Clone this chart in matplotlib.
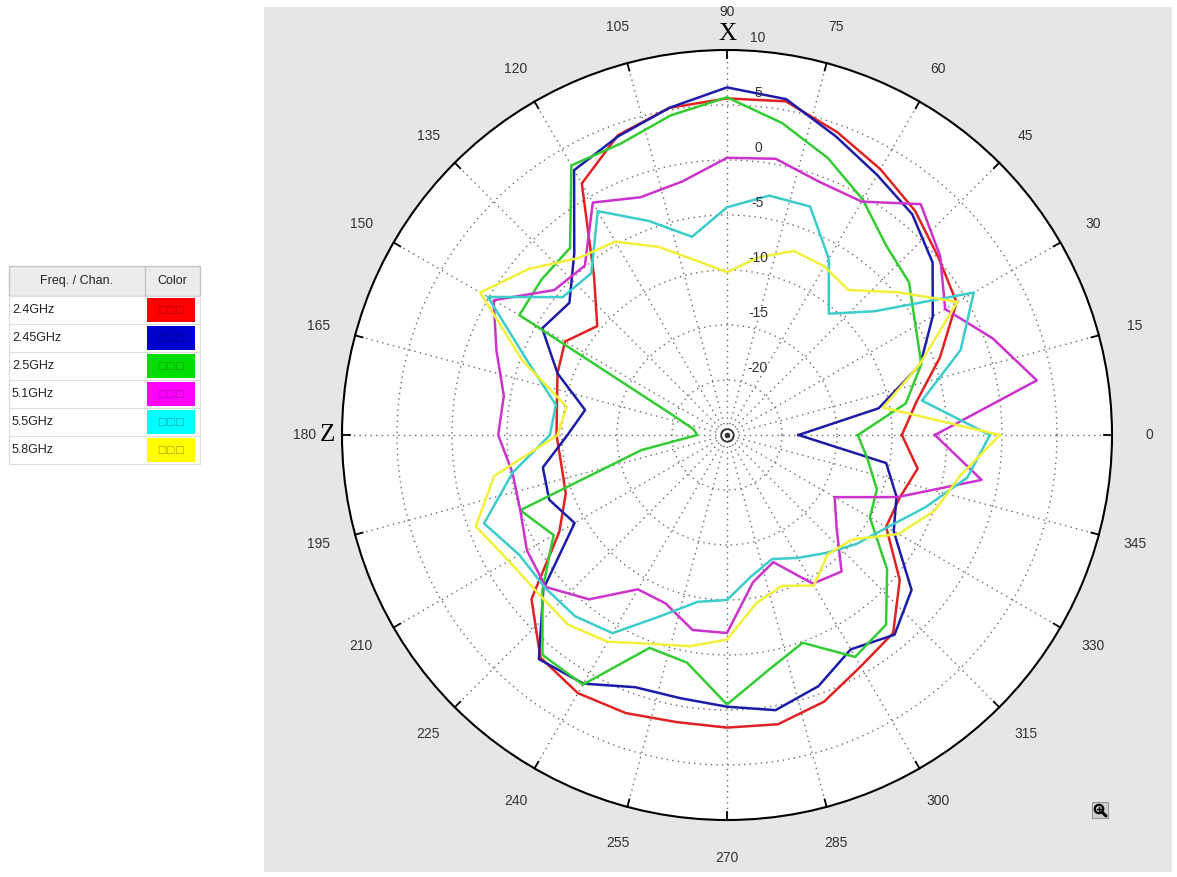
import numpy as np
import matplotlib
matplotlib.use('Agg')
import matplotlib.pyplot as plt
from matplotlib.patches import Rectangle, Circle

# measurement angles (deg) and gain per band (dB)
angles = np.arange(0, 360, 10)

gain_2g40 = [-9.1, -7.5, -4.4, -0.9, 0.1, 1.6, 2.9, 4.3, 5.8, 5.6, 5.2, 4.0,
             1.4, -6.2, -9.6, -8.0, -8.6, -9.3, -9.5, -9.7, -9.4, -7.4, -1.8, 1.4,
             2.1, 1.9, 1.5, 1.6, 1.7, 0.8, -0.7, -1.5, -4.5, -8.3, -8.3, -7.4]
gain_2g45 = [-18.5, -11.0, -6.3, -3.4, -0.6, 1.2, 2.3, 3.9, 6.0, 6.6, 5.2, 3.9,
             2.8, -3.4, -6.3, -5.6, -8.6, -11.9, -10.5, -8.0, -7.8, -9.0, -3.2, 1.6,
             1.1, -0.6, -0.7, -0.3, 0.4, -0.7, -2.5, -1.3, -3.1, -7.5, -8.6, -10.3]
gain_2g50 = [-13.1, -8.5, -6.2, -5.2, -3.4, -2.5, -0.3, 1.8, 3.8, 5.7, 4.5, 3.2,
             3.3, -2.8, -3.0, -3.2, -19.8, -21.9, -22.3, -17.1, -5.0, -6.8, -3.1, 1.1,
             1.2, -4.4, -4.0, -0.5, -3.3, -4.9, -1.7, -2.5, -6.0, -10.0, -10.5, -12.0]
gain_5g10 = [-6.1, 3.6, 0.7, -2.1, 0.3, 2.4, -0.5, -0.5, 0.5, 0.2, -1.6, -2.0,
             -0.6, -4.9, -4.5, -0.5, -2.7, -4.4, -4.2, -5.2, -5.0, -4.0, -3.5, -5.5,
             -8.8, -8.7, -7.0, -7.0, -11.4, -12.7, -9.4, -8.8, -12.0, -13.7, -8.5, -1.5]
gain_5g50 = [-1.1, -7.0, -2.4, 0.9, -7.5, -10.6, -6.5, -2.9, -2.9, -4.3, -6.7, -4.3,
             -1.5, -5.8, -5.5, 0.1, -5.8, -9.2, -8.9, -5.2, -1.5, -3.2, -3.4, -3.5,
             -4.2, -7.5, -9.6, -10.0, -12.0, -13.0, -12.1, -11.0, -9.6, -8.2, -5.8, -2.8]
gain_5g80 = [-0.2, -10.6, -6.4, -0.8, -4.8, -7.8, -7.3, -7.2, -8.6, -10.2, -8.9, -6.8,
             -4.7, -4.0, -1.5, 0.9, -5.2, -10.2, -9.6, -3.5, -0.7, -2.1, -2.6, -2.5,
             -3.3, -4.8, -5.5, -6.4, -9.5, -10.4, -9.2, -10.8, -10.2, -7.0, -4.9, -3.5]

freqs = ['2.4GHz', '2.45GHz', '2.5GHz', '5.1GHz', '5.5GHz', '5.8GHz']
series = [gain_2g40, gain_2g45, gain_2g50, gain_5g10, gain_5g50, gain_5g80]
line_colors = ['#e02222', '#1c1ca8', '#33cc33', '#cc33cc', '#3ccccc', '#f2f03a']
cell_colors = ['#ff0000', '#0000cc', '#00dd00', '#ff00ff', '#00ffff', '#ffff00']
mark_colors = ['#b00000', '#00008a', '#009a00', '#b000b0', '#00a0a0', '#a0a000']

r_ticks = [-20, -15, -10, -5, 0, 5, 10]
theta_ticks = np.arange(0, 360, 15)

W, H = 1177, 877
fig = plt.figure(figsize=(W / 100, H / 100), dpi=100)

# background layer in pixel units: gray panel, legend table, zoom icon
base = fig.add_axes([0, 0, 1, 1])
base.set_xlim(0, W)
base.set_ylim(H, 0)
base.axis('off')
base.add_patch(Rectangle((264, 7), 908, 865, fc='#e6e6e6', ec='none'))

x0, x1, x2 = 9, 145, 200
top, head_h, row_h = 266, 30, 28
base.add_patch(Rectangle((x0, top), x2 - x0, head_h, fc='#ececec', ec='#c4c4c4', lw=1))
base.plot([x1, x1], [top, top + head_h], color='#c4c4c4', lw=1)
base.text((x0 + x1) / 2, top + head_h / 2, 'Freq. / Chan.', ha='center', va='center',
          fontsize=9, family='Liberation Sans', color='#222')
base.text((x1 + x2) / 2, top + head_h / 2, 'Color', ha='center', va='center',
          fontsize=9, family='Liberation Sans', color='#222')
for i, (f, c, m) in enumerate(zip(freqs, cell_colors, mark_colors)):
    y = top + head_h + i * row_h
    base.add_patch(Rectangle((x0, y), x2 - x0, row_h, fc='white', ec='#dcdcdc', lw=0.8))
    base.add_patch(Rectangle((x1 + 2, y + 2), 48, row_h - 4, fc=c, ec='none'))
    base.text(x0 + 3, y + row_h / 2, f, ha='left', va='center', fontsize=9,
              family='Liberation Sans', color='#222')
    base.text(x1 + 26, y + row_h / 2, '\u25a1\u25a1\u25a1', ha='center', va='center',
              fontsize=7, color=m)

base.add_patch(Rectangle((1092, 802), 16, 16, fc='#cfcfcf', ec='#999999', lw=0.8))
base.add_patch(Circle((1099, 809), 4.2, fill=False, ec='k', lw=1.6))
base.plot([1102, 1106], [812, 816], color='k', lw=2.2, solid_capstyle='round')
base.plot([1097, 1101], [809, 809], color='k', lw=1)
base.plot([1099, 1099], [807, 811], color='k', lw=1)

# polar plot, center (727, 435) px, radius 385 px
R = 385
ax = fig.add_axes([(727 - R) / W, (H - 435 - R) / H, 2 * R / W, 2 * R / H],
                  projection='polar')
ax.set_facecolor('white')
ax.set_ylim(-25, 10)
ax.set_yticks(r_ticks[:-1])
ax.set_yticklabels([])
ax.set_xticks(np.deg2rad(theta_ticks))
ax.set_xticklabels([str(t) for t in theta_ticks], fontsize=10,
                   family='Liberation Sans', color='#333')
ax.tick_params(axis='x', length=0, pad=20)
ax.grid(True, color='#6a6a6a', linestyle=(0, (1, 3)), linewidth=1.0)
ax.spines['polar'].set_color('k')
ax.spines['polar'].set_linewidth(1.5)

# short inward ticks on the outer ring
for t in np.deg2rad(theta_ticks):
    ax.plot([t, t], [9.3, 10], color='k', lw=1.3, clip_on=False)

for vals, col in zip(series, line_colors):
    th = np.deg2rad(np.append(angles, 360))
    rr = np.append(vals, vals[0])
    ax.plot(th, rr, color=col, lw=1.8)

for v in r_ticks:
    ax.annotate(str(v), xy=(np.pi / 2, v), xytext=(31, 12), textcoords='offset pixels',
                ha='center', va='center', fontsize=10, family='Liberation Sans',
                color='#333', annotation_clip=False)

ax.annotate('X', xy=(np.pi / 2, 10), xytext=(0, 16), textcoords='offset pixels',
            ha='center', va='center', fontsize=18, family='Liberation Serif',
            annotation_clip=False)
ax.annotate('Z', xy=(np.pi, 10), xytext=(-15, 0), textcoords='offset pixels',
            ha='center', va='center', fontsize=18, family='Liberation Serif',
            annotation_clip=False)

# bullseye at the origin
ax.plot([0], [-25], marker='o', ms=9, mfc='none', mec='#333', mew=1.2, clip_on=False)
ax.plot([0], [-25], marker='o', ms=3, color='#333', clip_on=False)

fig.savefig('out.png', dpi=100)
